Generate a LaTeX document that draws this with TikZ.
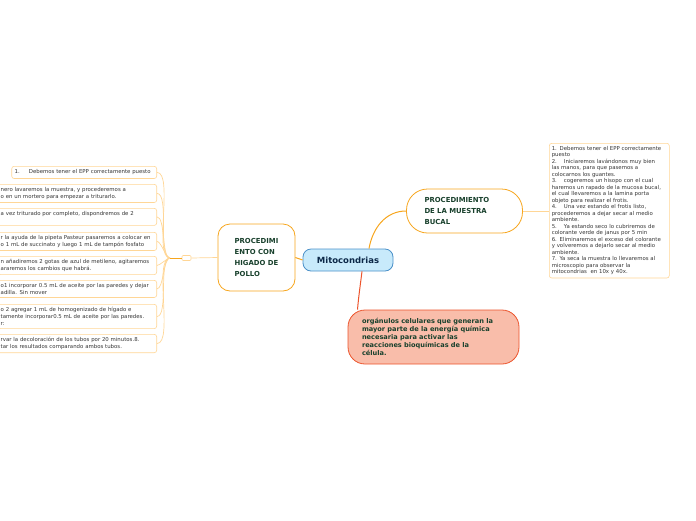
\documentclass[tikz,border=0pt]{standalone}
\usepackage{fontspec}
\setmainfont{DejaVu Sans}
\usetikzlibrary{positioning}
\definecolor{mapline}{RGB}{247,166,30}
\definecolor{leafline}{RGB}{255,214,150}
\definecolor{darkgreen}{RGB}{24,64,44}
\definecolor{mitofill}{RGB}{200,234,251}
\definecolor{mitoline}{RGB}{74,144,200}
\definecolor{mitotext}{RGB}{12,40,72}
\definecolor{redfill}{RGB}{249,189,170}
\definecolor{redline}{RGB}{236,84,44}
\definecolor{leaftext}{RGB}{55,55,55}

\begin{document}
\begin{tikzpicture}[x=1pt, y=-1pt,
    topic/.style={draw=mapline, fill=white, line width=0.8pt, align=left, font=\fontsize{6.9}{11}\selectfont\bfseries, text=darkgreen},
    leaf/.style={draw=leafline, fill=white, line width=0.6pt, rounded corners=2.5pt, align=left, inner xsep=3pt, inner ysep=3pt, font=\fontsize{5.4}{7}\selectfont, text=leaftext},
    branch/.style={draw=mapline, line width=1pt},
    twig/.style={draw=leafline, line width=0.7pt}
]
  \useasboundingbox (0,0) rectangle (696,520);
  \clip (0,0) rectangle (696,520);

  \node[draw=mitoline, fill=mitofill, line width=0.8pt, rounded corners=8pt, minimum width=90pt, minimum height=22pt, inner sep=0pt,
        font=\fontsize{8.5}{9}\selectfont\bfseries, text=mitotext] (mito) at (348,260) {Mitocondrias};

  \node[topic, rounded corners=12pt, minimum width=77pt, minimum height=67pt] (higado) at (256.5,257.5)
    {PROCEDIMI\\ENTO CON\\HIGADO DE\\POLLO};
  \node[topic, rounded corners=21pt, text width=80pt, inner xsep=18pt, minimum height=44pt] (bucal) at (464.5,211)
    {PROCEDIMIENTO\\DE LA MUESTRA\\BUCAL};
  \node[topic, draw=redline, fill=redfill, rounded corners=17pt, text width=143pt, inner xsep=14pt, minimum height=54pt,
        font=\fontsize{6.6}{8.2}\selectfont\bfseries] (funcion) at (433.5,337)
    {orgánulos celulares que generan la\\mayor parte de la energía química\\necesaria para activar las\\reacciones bioquímicas de la\\célula.};

  % pasos de la muestra bucal
  \node[leaf, anchor=north west, text width=115pt, inner xsep=2.5pt, font=\fontsize{5.4}{6.5}\selectfont] (pasos) at (549,143)
    {1. Debemos tener el EPP correctamente\\puesto\\
     2.\hspace{7pt}Iniciaremos lavándonos muy bien\\las manos, para que pasemos a\\colocarnos los guantes.\\
     3.\hspace{7pt}cogeremos un hisopo con el cual\\haremos un rapado de la mucosa bucal,\\el cual llevaremos a la lamina porta\\objeto para realizar el frotis.\\
     4.\hspace{7pt}Una vez estando el frotis listo,\\procederemos a dejar secar al medio\\ambiente.\\
     5.\hspace{7pt}Ya estando seco lo cubriremos de\\colorante verde de janus por 5 min\\
     6. Eliminaremos el exceso del colorante\\y volveremos a dejarlo secar al medio\\ambiente.\\
     7. Ya seca la muestra lo llevaremos al\\microscopio para observar la\\mitocondrias\ \ en 10x y 40x.};

  % pasos del higado de pollo
  \node[leaf, anchor=north east, text width=139pt, inner ysep=3.5pt] (s1) at (157,166)
    {1.\hspace{9pt}Debemos tener el EPP correctamente puesto};
  \node[leaf, anchor=north east, text width=153pt] (s2) at (157,184)
    {nero lavaremos la muestra, y procederemos a\\o en un mortero para empezar a triturarlo.};
  \node[leaf, anchor=north east, text width=153pt] (s3) at (157,208)
    {a vez triturado por completo, dispondremos de 2\\\mbox{}};
  \node[leaf, anchor=north east, text width=153pt] (s4) at (157,232)
    {r la ayuda de la pipeta Pasteur pasaremos a colocar en\\o 1 mL de succinato y luego 1 mL de tampón fosfato};
  \node[leaf, anchor=north east, text width=153pt] (s5) at (157,256)
    {n añadiremos 2 gotas de azul de metileno, agitaremos\\araremos los cambios que habrá.};
  \node[leaf, anchor=north east, text width=153pt] (s6) at (157,280)
    {o1 incorporar 0.5 mL de aceite por las paredes y dejar\\adilla. Sin mover};
  \node[leaf, anchor=north east, text width=153pt] (s7) at (157,304)
    {o 2 agregar 1 mL de homogenizado de hígado e\\tamente incorporar0.5 mL de aceite por las paredes.\\r:};
  \node[leaf, anchor=north east, text width=153pt] (s8) at (157,334)
    {rvar la decoloración de los tubos por 20 minutos.8.\\tar los resultados comparando ambos tubos.};

  \coordinate (hub) at (170,258);
  \node[draw=leafline, fill=white, line width=0.6pt, rounded corners=1pt, minimum width=9pt, minimum height=5pt, inner sep=0pt] (knot) at (186.5,258) {};

  \foreach \n in {1,...,8}
    \draw[twig] (s\n.east) to[out=0, in=180, looseness=0.5] (hub);
  \draw[branch] (hub) -- (knot.west);
  \draw[twig] (knot.east) -- (higado.west);

  \draw[branch] (mito.west) -- (higado.east);
  \draw[branch] ([xshift=21pt]mito.north) to[out=80, in=180] (bucal.west);
  \draw[twig] (bucal.east) -- (pasos.west |- bucal.east);
  \draw[draw=redline, line width=1pt] ([xshift=14pt]mito.south) to[out=-97, in=85] ([xshift=-76pt]funcion.north);
\end{tikzpicture}
\end{document}
